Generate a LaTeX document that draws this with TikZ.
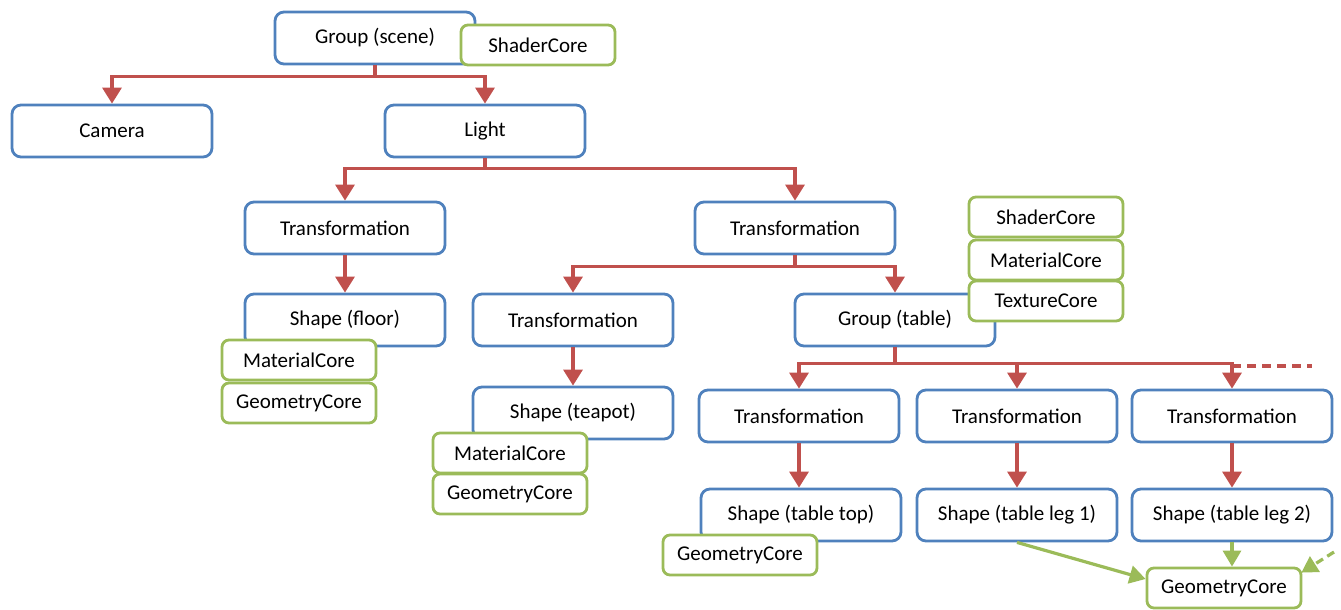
\documentclass[tikz,border=0pt]{standalone}
\usepackage{fontspec}
\setmainfont{Carlito}
\usetikzlibrary{arrows.meta,calc}
\definecolor{bblue}{HTML}{4F81BD}
\definecolor{rred}{HTML}{C0504D}
\definecolor{ggreen}{HTML}{9BBB59}
\tikzset{
  obj/.style={draw=bblue, line width=2.8pt, fill=white, rounded corners=9pt,
    minimum width=200pt, minimum height=52pt, inner sep=0pt,
    font=\fontsize{21}{24}\selectfont},
  core/.style={draw=ggreen, line width=2.8pt, fill=white, rounded corners=7pt,
    minimum width=154pt, minimum height=40pt, inner sep=0pt,
    font=\fontsize{21}{24}\selectfont},
  redarrow/.style={draw=rred, line width=3.3pt, -{Triangle[width=19pt,length=16pt]}},
  redline/.style={draw=rred, line width=3.3pt},
  greenarrow/.style={draw=ggreen, line width=3.2pt, -{Triangle[width=18pt,length=16pt]}}
}
\begin{document}
\begin{tikzpicture}[x=1pt,y=-1pt]
\useasboundingbox (0,0) rectangle (1341,610);
% blue object nodes
\node[obj] (gs) at (375,38) {Group (scene)};
\node[obj] (cam) at (112,131) {Camera};
\node[obj] (light) at (485,131) {Light};
\node[obj] (tl) at (345,228) {Transformation};
\node[obj] (tm) at (795,228) {Transformation};
\node[obj] (sf) at (345,320) {Shape (floor)};
\node[obj] (tt) at (573,320) {Transformation};
\node[obj] (gt) at (895,320) {Group (table)};
\node[obj] (st) at (573,413) {Shape (teapot)};
\node[obj] (ta) at (799,416) {Transformation};
\node[obj] (tb) at (1017,416) {Transformation};
\node[obj] (tc) at (1232,416) {Transformation};
\node[obj] (stt) at (801,515) {Shape (table top)};
\node[obj] (sl1) at (1017,515) {Shape (table leg 1)};
\node[obj] (sl2) at (1232,515) {Shape (table leg 2)};
% green core nodes
\node[core] (sc1) at (538,45) {ShaderCore};
\node[core] (sc2) at (1046,217) {ShaderCore};
\node[core] (mc2) at (1046,260) {MaterialCore};
\node[core] (tx2) at (1046,301) {TextureCore};
\node[core] (mcf) at (299,360) {MaterialCore};
\node[core] (gcf) at (299,403) {GeometryCore};
\node[core] (mct) at (510,453) {MaterialCore};
\node[core] (gct) at (510,494) {GeometryCore};
\node[core] (gctt) at (740,555) {GeometryCore};
\node[core] (gcl) at (1224,588) {GeometryCore};
% red connectors
\draw[redarrow] (gs.south) -- ++(0,11) -| (cam.north);
\draw[redarrow] (gs.south) -- ++(0,11) -| (light.north);
\draw[redarrow] (light.south) -- ++(0,10) -| (tl.north);
\draw[redarrow] (light.south) -- ++(0,10) -| (tm.north);
\draw[redarrow] (tl.south) -- (sf.north);
\draw[redarrow] (tm.south) -- ++(0,11) -| (tt.north);
\draw[redarrow] (tm.south) -- ++(0,11) -| (gt.north);
\draw[redarrow] (tt.south) -- (st.north);
\draw[redarrow] (gt.south) -- ++(0,16) -| (ta.north);
\draw[redarrow] (gt.south) -- ++(0,16) -| (tb.north);
\draw[redarrow] (gt.south) -- ++(0,16) -| (tc.north);
\coordinate (dashend) at (1312,366);
\draw[redline, dash pattern=on 9pt off 6pt] (tc.north |- dashend) -- (dashend);
\draw[redarrow] (ta.south) -- (ta.south |- stt.north);
\draw[redarrow] (tb.south) -- (sl1.north);
\draw[redarrow] (tc.south) -- (sl2.north);
% green connectors
\draw[greenarrow] (sl1.south) -- ($(gcl.west)+(0,-9)$);
\draw[greenarrow] (sl2.south) -- (sl2.south |- gcl.north);
\coordinate (gdash) at (1334,552);
\draw[greenarrow, dash pattern=on 8pt off 5pt] (gdash) -- ($(gcl.north east)+(-1,6)$);
\end{tikzpicture}
\end{document}
